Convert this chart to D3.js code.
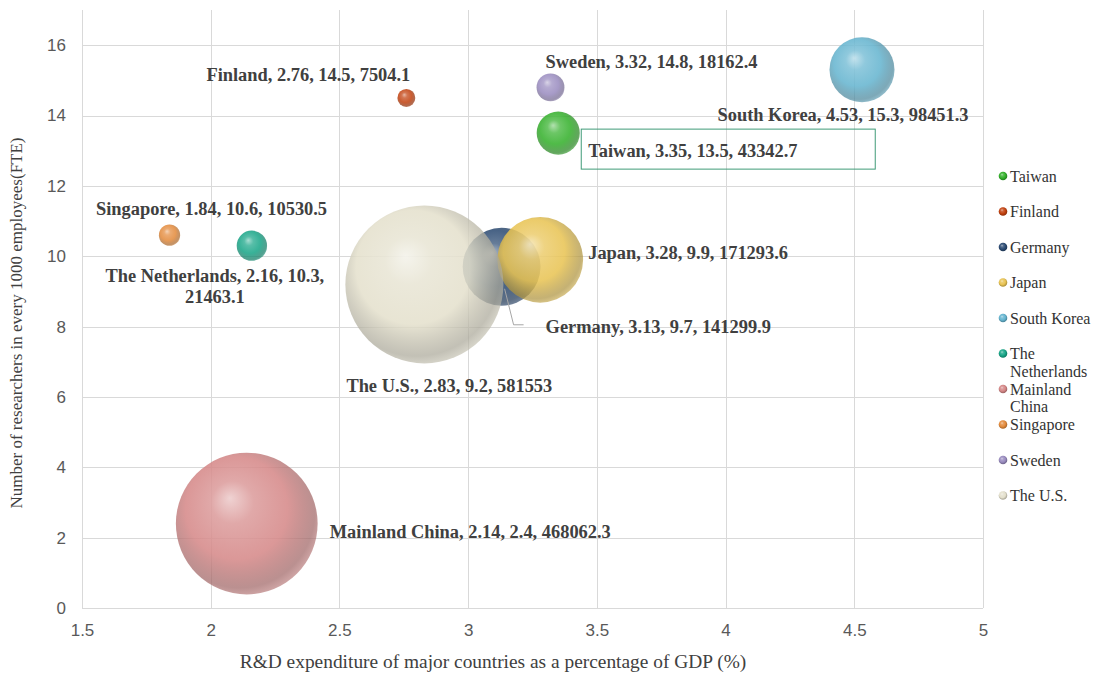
<!DOCTYPE html>
<html>
<head>
<meta charset="utf-8">
<script src="https://cdn.jsdelivr.net/npm/d3@7"></script>
<style>
  html, body { margin: 0; padding: 0; background: #fff; }
  svg { display: block; }
  .serif { font-family: "Liberation Serif", "Times New Roman", "DejaVu Serif", serif; }
  .sans { font-family: "Liberation Sans", Arial, sans-serif; }
</style>
</head>
<body>
<svg id="chart" width="1098" height="680"></svg>
<script>
// Economies, in legend order
const countries = ["Taiwan", "Finland", "Germany", "Japan", "South Korea",
  "The Netherlands", "Mainland China", "Singapore", "Sweden", "The U.S."];
// R&D expenditure as % of GDP
const rdShare = [3.35, 2.76, 3.13, 3.28, 4.53, 2.16, 2.14, 1.84, 3.32, 2.83];
// Researchers per 1000 employees (FTE)
const researchers = [13.5, 14.5, 9.7, 9.9, 15.3, 10.3, 2.4, 10.6, 14.8, 9.2];
// Total researchers (bubble size)
const totals = [43342.7, 7504.1, 141299.9, 171293.6, 98451.3, 21463.1, 468062.3, 10530.5, 18162.4, 581553];

const xTicks = [1.5, 2, 2.5, 3, 3.5, 4, 4.5, 5];
const yTicks = [0, 2, 4, 6, 8, 10, 12, 14, 16];

const colors = ["#33b02a", "#c2410f", "#2b4a72", "#e8c352", "#64b4cf",
  "#17a587", "#d58787", "#e38a3b", "#998bbf", "#e4e0cc"];

// label placement relative to the bubble centre: [dx, dy, anchor]
const labelLayout = {
  "Taiwan": [30, 17, "start"],
  "Finland": [-98, -23, "middle"],
  "Germany": [44, 60, "start"],
  "Japan": [48, -7, "start"],
  "South Korea": [-19, 45, "middle"],
  "The Netherlands": [-37, 30, "middle"],
  "Mainland China": [83, 8, "start"],
  "Singapore": [42, -27, "middle"],
  "Sweden": [-5, -26, "start"],
  "The U.S.": [-78, 101, "start"]
};

const svg = d3.select("#chart");
const m = { left: 82, right: 115, top: 10, bottom: 72 };
const W = 1098, H = 680;

const x = d3.scaleLinear().domain([1.5, 5]).range([m.left, W - m.right]);
const y = d3.scaleLinear().domain([0, 17]).range([H - m.bottom, m.top]);
const r = d3.scaleSqrt().domain([0, d3.max(totals)]).range([0, 79]);

const data = countries.map((c, i) => ({
  name: c, x: rdShare[i], y: researchers[i], v: totals[i], color: colors[i]
}));

// sphere shading gradients: lit top-left, darker and more see-through at the rim
const defs = svg.append("defs");
function sphere(id, col, solid) {
  const base = d3.rgb(col);
  const mix = t => d3.interpolateRgb(base, "#ffffff")(t);
  const g = defs.append("radialGradient")
    .attr("id", id)
    .attr("cx", "0.46").attr("cy", "0.44").attr("r", "0.6")
    .attr("fx", "0.38").attr("fy", "0.32");
  const stops = [
    [0, mix(0.6), 0.93],
    [0.25, mix(0.2), 0.9],
    [0.6, base.formatHex(), 0.86],
    [0.88, base.darker(0.8).formatHex(), 0.72],
    [1, base.darker(0.35).formatHex(), 0.6]
  ];
  stops.forEach(([o, c, a]) => g.append("stop")
    .attr("offset", o).attr("stop-color", c).attr("stop-opacity", solid ? 1 : a));
}
data.forEach((d, i) => {
  sphere("sph" + i, d.color, false);
  sphere("leg" + i, d.color, true);
});

// gridlines
const grid = svg.append("g").attr("stroke", "#d9d9d9").attr("stroke-width", 1);
grid.selectAll(".gx").data(xTicks).join("line")
  .attr("x1", d => Math.round(x(d)) + 0.5).attr("x2", d => Math.round(x(d)) + 0.5)
  .attr("y1", y(17)).attr("y2", y(0));
grid.selectAll(".gy").data(yTicks).join("line")
  .attr("x1", x(1.5)).attr("x2", x(5))
  .attr("y1", d => Math.round(y(d)) + 0.5).attr("y2", d => Math.round(y(d)) + 0.5);

// axes (labels only)
const xAxis = svg.append("g")
  .attr("transform", `translate(0,${y(0)})`)
  .call(d3.axisBottom(x).tickValues(xTicks).tickSize(0).tickPadding(16).tickFormat(d3.format("")));
const yAxis = svg.append("g")
  .attr("transform", `translate(${x(1.5)},0)`)
  .call(d3.axisLeft(y).tickValues(yTicks).tickSize(0).tickPadding(16));
[xAxis, yAxis].forEach(a => {
  a.attr("font-family", null).attr("font-size", null);
  a.select(".domain").remove();
  a.selectAll("text")
    .attr("class", "sans")
    .attr("font-size", 17).attr("fill", "#595959");
});

// axis titles
svg.append("text")
  .attr("class", "serif")
  .attr("x", 493).attr("y", 668)
  .attr("text-anchor", "middle")
  .attr("font-size", 19.4).attr("fill", "#404040")
  .text("R&D expenditure of major countries as a percentage of GDP (%)");
svg.append("text")
  .attr("class", "serif")
  .attr("transform", `translate(22,323) rotate(-90)`)
  .attr("text-anchor", "middle")
  .attr("font-size", 17).attr("fill", "#404040")
  .text("Number of researchers in every 1000 employees(FTE)");

// bubbles, drawn in series order
svg.append("g").selectAll("circle").data(data).join("circle")
  .attr("cx", d => x(d.x)).attr("cy", d => y(d.y)).attr("r", d => r(d.v))
  .attr("fill", (d, i) => `url(#sph${i})`);

// Germany leader line
const ger = data[2];
const gx0 = x(ger.x), gy0 = y(ger.y);
svg.append("path")
  .attr("d", `M${gx0 + 3},${gy0 + 22} L${gx0 + 12},${gy0 + 58} L${gx0 + 22},${gy0 + 58}`)
  .attr("fill", "none").attr("stroke", "#a6a6a6").attr("stroke-width", 1);

// data labels
const labels = svg.append("g").attr("class", "serif")
  .attr("font-size", 18.4).attr("font-weight", "bold").attr("fill", "#404040");
data.forEach(d => {
  const [dx, dy, anchor] = labelLayout[d.name];
  const lx = x(d.x) + dx, ly = y(d.y) + dy;
  const t = labels.append("text")
    .attr("x", lx).attr("y", ly).attr("dy", "0.35em")
    .attr("text-anchor", anchor);
  if (d.name === "The Netherlands") {
    t.append("tspan").attr("x", lx).text(`${d.name}, ${d.x}, ${d.y},`);
    t.append("tspan").attr("x", lx).attr("dy", "1.15em").text(`${d.v}`);
  } else {
    t.text(`${d.name}, ${d.x}, ${d.y}, ${d.v}`);
  }
  if (d.name === "Taiwan") {
    labels.append("rect")
      .attr("x", lx - 7).attr("y", ly - 21)
      .attr("width", 294).attr("height", 40)
      .attr("fill", "none").attr("stroke", "#3f9b78").attr("stroke-width", 1);
  }
});

// legend
const legend = svg.append("g").attr("class", "serif")
  .attr("font-size", 16).attr("fill", "#333");
const wrapNames = { "The Netherlands": ["The", "Netherlands"], "Mainland China": ["Mainland", "China"] };
data.forEach((d, i) => {
  const ly = 176 + 35.5 * i;
  legend.append("circle").attr("cx", 1003).attr("cy", ly).attr("r", 4.3)
    .attr("fill", `url(#leg${i})`);
  const lines = wrapNames[d.name] || [d.name];
  const t = legend.append("text").attr("x", 1010).attr("y", ly);
  lines.forEach((s, k) => t.append("tspan").attr("x", 1010).attr("dy", k === 0 ? "0.35em" : "1.1em").text(s));
});
</script>
</body>
</html>
